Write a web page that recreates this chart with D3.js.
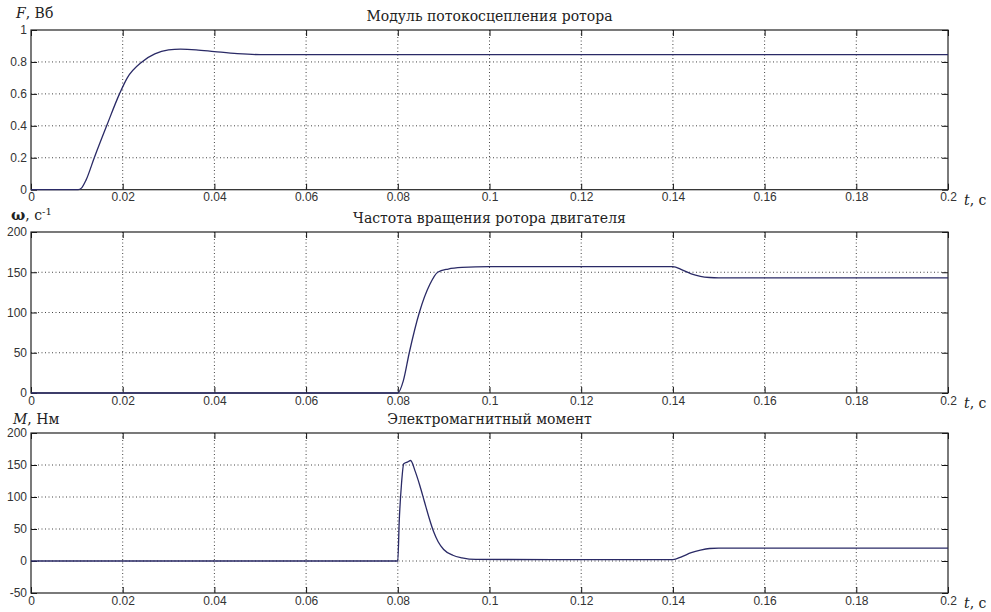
<!DOCTYPE html>
<html>
<head>
<meta charset="utf-8">
<script src="https://cdn.jsdelivr.net/npm/d3@7"></script>
<style>
  body { margin: 0; background: #fff; }
  .tick text { font-family: Arial, "Liberation Sans", sans-serif; font-size: 12px; fill: #333; }
  .title { font-family: "DejaVu Serif", "Liberation Serif", serif; font-size: 14px; fill: #222; }
  .lbl { font-family: "DejaVu Serif", "Liberation Serif", serif; font-size: 14px; fill: #222; }
  .grid line { stroke: #444; stroke-dasharray: 1,2.5; stroke-width: 1; }
</style>
</head>
<body>
<svg id="chart" width="991" height="612"></svg>
<script>
// time axis
const xTicks = [0, 0.02, 0.04, 0.06, 0.08, 0.1, 0.12, 0.14, 0.16, 0.18, 0.2];
const xTickLabels = ['0', '0.02', '0.04', '0.06', '0.08', '0.1', '0.12', '0.14', '0.16', '0.18', '0.2'];

// rotor flux linkage, Wb
const fluxT = [0, 0.0103, 0.011, 0.012, 0.0138, 0.0165, 0.0193, 0.021, 0.0242, 0.027, 0.03, 0.0326, 0.036, 0.04, 0.045, 0.05, 0.2];
const fluxV = [0, 0, 0.01, 0.06, 0.2, 0.4, 0.6, 0.7, 0.8, 0.85, 0.875, 0.88, 0.876, 0.865, 0.852, 0.846, 0.846];
const fluxTicks = [0, 0.2, 0.4, 0.6, 0.8, 1];
const fluxTickLabels = ['0', '0.2', '0.4', '0.6', '0.8', '1'];

// rotor speed, 1/s
const speedT = [0, 0.08, 0.0812, 0.0825, 0.0847, 0.087, 0.0887, 0.091, 0.094, 0.1, 0.14, 0.142, 0.144, 0.146, 0.148, 0.15, 0.2];
const speedV = [0, 0, 15, 50, 100, 135, 150, 154, 156, 157, 157, 153, 148, 145, 143.5, 143, 143];
const speedTicks = [0, 50, 100, 150, 200];
const speedTickLabels = ['0', '50', '100', '150', '200'];

// electromagnetic torque, N*m
const torqueT = [0, 0.08, 0.0803, 0.0808, 0.0813, 0.0822, 0.0828, 0.0838, 0.0848, 0.0858, 0.0868, 0.0878, 0.0888, 0.09, 0.092, 0.094, 0.097, 0.14, 0.142, 0.144, 0.146, 0.148, 0.15, 0.2];
const torqueV = [0, 0, 60, 120, 152, 155, 157, 140, 118, 93, 68, 46, 30, 18, 9, 5, 2.5, 2, 7, 13, 17, 19.5, 20, 20];
const torqueTicks = [-50, 0, 50, 100, 150, 200];
const torqueTickLabels = ['-50', '0', '50', '100', '150', '200'];

const svg = d3.select('#chart');
const left = 31, right = 948;

const x = d3.scaleLinear().domain([0, 0.2]).range([left, right]);

function panel(o) {
  const y = d3.scaleLinear().domain(o.domain).range([o.bottom, o.top]);
  const g = svg.append('g');

  // dotted grid
  const grid = g.append('g').attr('class', 'grid');
  grid.selectAll('.gx')
    .data(xTicks.slice(1, -1))
    .enter().append('line')
    .attr('x1', d => x(d)).attr('x2', d => x(d))
    .attr('y1', o.top).attr('y2', o.bottom);
  grid.selectAll('.gy')
    .data(o.ticks.slice(1, -1))
    .enter().append('line')
    .attr('x1', left).attr('x2', right)
    .attr('y1', d => y(d)).attr('y2', d => y(d));

  // axes with inward ticks on all four sides
  g.append('g').attr('transform', `translate(0,${o.bottom})`)
    .call(d3.axisBottom(x).tickValues(xTicks).tickSizeInner(-6).tickSizeOuter(0).tickPadding(3)
      .tickFormat((d, i) => xTickLabels[i]));
  g.append('g').attr('transform', `translate(0,${o.top})`)
    .call(d3.axisTop(x).tickValues(xTicks).tickSizeInner(-6).tickSizeOuter(0).tickFormat(''));
  g.append('g').attr('transform', `translate(${left},0)`)
    .call(d3.axisLeft(y).tickValues(o.ticks).tickSizeInner(-6).tickSizeOuter(0).tickPadding(4)
      .tickFormat((d, i) => o.labels[i]));
  g.append('g').attr('transform', `translate(${right},0)`)
    .call(d3.axisRight(y).tickValues(o.ticks).tickSizeInner(-6).tickSizeOuter(0).tickFormat(''));
  g.selectAll('.domain').remove();
  g.selectAll('.tick line').attr('stroke', '#111');

  g.append('rect')
    .attr('x', left).attr('y', o.top)
    .attr('width', right - left).attr('height', o.bottom - o.top)
    .attr('fill', 'none').attr('stroke', '#222').attr('stroke-width', 1.2);

  // data line
  const pts = o.t.map((t, i) => [t, o.v[i]]);
  g.append('path')
    .datum(pts)
    .attr('fill', 'none')
    .attr('stroke', '#2a2a66')
    .attr('stroke-width', 1.3)
    .attr('d', d3.line().x(d => x(d[0])).y(d => y(d[1])).curve(d3.curveMonotoneX));

  // title
  g.append('text').attr('class', 'title')
    .attr('x', (left + right) / 2).attr('y', o.top - 9)
    .attr('text-anchor', 'middle')
    .text(o.title);

  // y label
  const yl = g.append('text').attr('class', 'lbl')
    .attr('x', o.ylx).attr('y', o.top - o.yld);
  o.ylabel(yl);

  // t, c
  const tl = g.append('text').attr('class', 'lbl')
    .attr('x', 964).attr('y', o.bottom + 15);
  tl.append('tspan').style('font-style', 'italic').text('t');
  tl.append('tspan').text(', c');
}

panel({
  top: 30, bottom: 189.7, domain: [0, 1], ticks: fluxTicks, labels: fluxTickLabels,
  t: fluxT, v: fluxV, title: 'Модуль потокосцепления ротора', ylx: 16, yld: 12,
  ylabel: s => { s.append('tspan').style('font-style', 'italic').text('F'); s.append('tspan').text(', Вб'); }
});
panel({
  top: 232, bottom: 393, domain: [0, 200], ticks: speedTicks, labels: speedTickLabels,
  t: speedT, v: speedV, title: 'Частота вращения ротора двигателя', ylx: 11, yld: 12,
  ylabel: s => {
    s.append('tspan').style('font-weight', 'bold').style('font-size', '15px').text('ω');
    s.append('tspan').text(', c');
    s.append('tspan').attr('dy', -5).style('font-size', '10px').text('-1');
  }
});
panel({
  top: 433, bottom: 593, domain: [-50, 200], ticks: torqueTicks, labels: torqueTickLabels,
  t: torqueT, v: torqueV, title: 'Электромагнитный момент', ylx: 13, yld: 9,
  ylabel: s => { s.append('tspan').style('font-style', 'italic').text('M'); s.append('tspan').text(', Нм'); }
});
</script>
</body>
</html>
